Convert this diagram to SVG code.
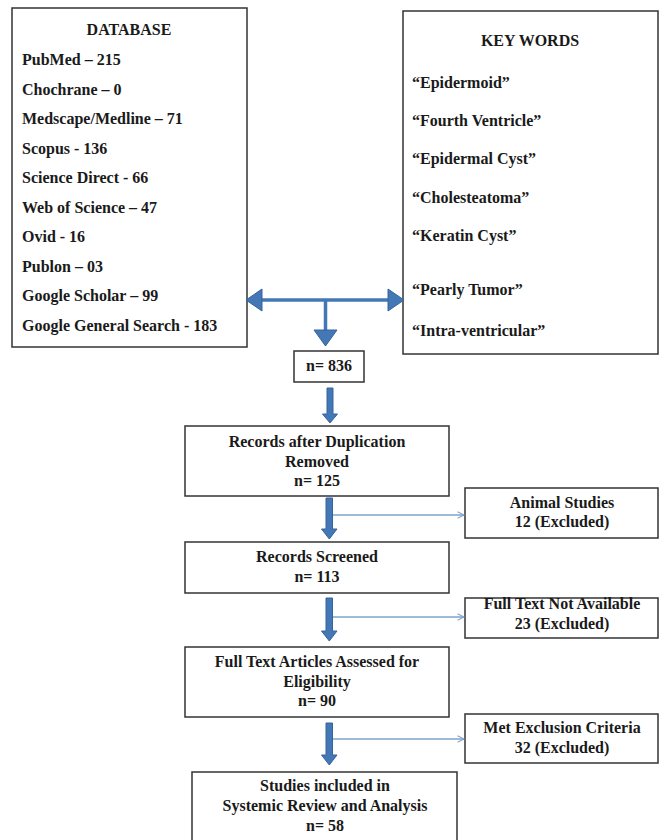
<svg xmlns="http://www.w3.org/2000/svg" width="659" height="840" viewBox="0 0 659 840">
<style>
.box{fill:#fff;stroke:#333;stroke-width:1.5}
text{font-family:"Liberation Serif","Times New Roman",serif;font-weight:bold;font-size:16px;fill:#1a1a1a}
.c{text-anchor:middle}
.blk{fill:#4477b5;stroke:#36649a;stroke-width:1}
.shaft{stroke:#4477b5;stroke-width:3.5;fill:none}
.thin{stroke:#7fa2cc;stroke-width:1.3;fill:none;marker-end:url(#chev)}
</style>
<defs>
<marker id="chev" viewBox="0 0 10 10" refX="9" refY="5" markerWidth="8" markerHeight="8" markerUnits="userSpaceOnUse" orient="auto">
<path d="M1,1 L9,5 L1,9" fill="none" stroke="#7fa2cc" stroke-width="1.3"/>
</marker>
</defs>
<g id="database">
<rect class="box" x="12" y="8" width="235" height="339"/>
<text class="c" x="129" y="35">DATABASE</text>
<text x="22" y="65">PubMed – 215</text>
<text x="22" y="94.5">Chochrane – 0</text>
<text x="22" y="124">Medscape/Medline – 71</text>
<text x="22" y="153.5">Scopus - 136</text>
<text x="22" y="183">Science Direct - 66</text>
<text x="22" y="212.5">Web of Science – 47</text>
<text x="22" y="242">Ovid - 16</text>
<text x="22" y="271.5">Publon – 03</text>
<text x="22" y="301">Google Scholar – 99</text>
<text x="22" y="330.5">Google General Search - 183</text>
</g>
<g id="keywords">
<rect class="box" x="403" y="11" width="255" height="343"/>
<text class="c" x="530" y="46">KEY WORDS</text>
<text x="412" y="88">“Epidermoid”</text>
<text x="412" y="126">“Fourth Ventricle”</text>
<text x="412" y="164">“Epidermal Cyst”</text>
<text x="412" y="203">“Cholesteatoma”</text>
<text x="412" y="241">“Keratin Cyst”</text>
<text x="412" y="295">“Pearly Tumor”</text>
<text x="412" y="336">“Intra-ventricular”</text>
</g>
<g id="total">
<rect class="box" x="294" y="351" width="70" height="31"/>
<text class="c" x="329" y="371">n= 836</text>
</g>
<g id="dedup">
<rect class="box" x="185" y="426" width="264" height="70"/>
<text class="c" x="317" y="447">Records after Duplication</text>
<text class="c" x="317" y="467">Removed</text>
<text class="c" x="317" y="486">n= 125</text>
</g>
<g id="animal">
<rect class="box" x="465" y="488" width="193" height="50"/>
<text class="c" x="562" y="508">Animal Studies</text>
<text class="c" x="562" y="527">12 (Excluded)</text>
</g>
<g id="screened">
<rect class="box" x="185" y="542" width="264" height="51"/>
<text class="c" x="317" y="562">Records Screened</text>
<text class="c" x="317" y="582">n= 113</text>
</g>
<g id="notavail">
<rect class="box" x="465" y="598" width="193" height="40"/>
<text class="c" x="562" y="609">Full Text Not Available</text>
<text class="c" x="562" y="629">23 (Excluded)</text>
</g>
<g id="fulltext">
<rect class="box" x="185" y="647" width="264" height="70"/>
<text class="c" x="317" y="667">Full Text Articles Assessed for</text>
<text class="c" x="317" y="687">Eligibility</text>
<text class="c" x="317" y="706">n= 90</text>
</g>
<g id="metexcl">
<rect class="box" x="465" y="714" width="193" height="49"/>
<text class="c" x="562" y="733">Met Exclusion Criteria</text>
<text class="c" x="562" y="753">32 (Excluded)</text>
</g>
<g id="included">
<rect class="box" x="192" y="772" width="265" height="72"/>
<text class="c" x="325" y="791">Studies included in</text>
<text class="c" x="325" y="811">Systemic Review and Analysis</text>
<text class="c" x="325" y="831">n= 58</text>
</g>
<g id="connectors">
<line class="shaft" x1="258" y1="300" x2="392" y2="300"/>
<polygon class="blk" points="246,300 262,289 262,311"/>
<polygon class="blk" points="404,300 388,289 388,311"/>
<line class="shaft" x1="325.5" y1="300" x2="325.5" y2="331"/>
<polygon class="blk" points="314,330 337,330 325.5,346"/>
<polygon class="blk" points="327,388 333,388 333,414 337.5,414 330,423 322.5,414 327,414"/>
<polygon class="blk" points="326,498 332.5,498 332.5,529 337,529 329.3,539 321.5,529 326,529"/>
<polygon class="blk" points="326,598 332.5,598 332.5,631 337,631 329.3,641 321.5,631 326,631"/>
<polygon class="blk" points="326,723 332.5,723 332.5,755 337,755 329.3,765 321.5,755 326,755"/>
<line class="thin" x1="333" y1="515" x2="464" y2="515"/>
<line class="thin" x1="333" y1="617" x2="464" y2="617"/>
<line class="thin" x1="333" y1="739" x2="464" y2="739"/>
</g>
</svg>
